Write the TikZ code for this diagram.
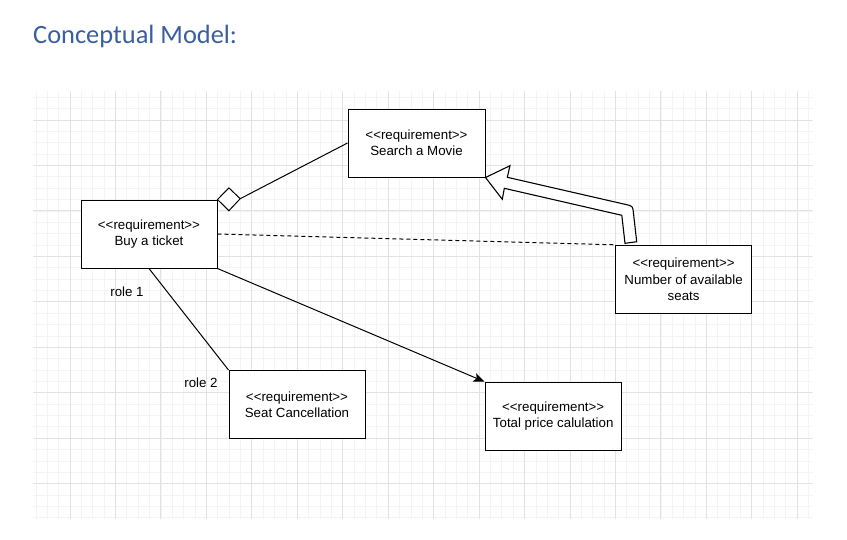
\documentclass[tikz,border=0pt]{standalone}
\usepackage{fontspec}
\setmainfont{Liberation Sans}
\newfontfamily\titlefont{Carlito}
\usetikzlibrary{arrows.meta,calc}
\definecolor{titleblue}{HTML}{3A5FA0}
\definecolor{gmajor}{HTML}{E2E2E2}
\definecolor{gminor}{HTML}{F4F4F4}
\newcommand\reqtag{<\kern0pt<requirement>\kern0pt>}
\begin{document}
\begin{tikzpicture}[x=1pt,y=-1pt,
  req/.style={draw,line width=1pt,fill=white,minimum width=136pt,minimum height=68pt,inner sep=0pt,align=center,font=\fontsize{13.3}{16.2}\selectfont},
  conn/.style={line width=1pt},
  lbl/.style={font=\fontsize{13.3}{16}\selectfont,inner sep=0pt},
  minorline/.style={gminor,line width=0.7pt},
  majorline/.style={gmajor,line width=0.9pt}]
\useasboundingbox[fill=white] (0,0) rectangle (847,539);
% title
\node[anchor=base west,inner sep=0pt,text=titleblue,font=\titlefont\fontsize{26.4}{30}\selectfont] (title) at (33,43.3) {Conceptual Model:};
% grid
\begin{scope}
\clip (33.3,91) rectangle (812.7,519.3);
\foreach \i in {0,...,72} \draw[minorline] ({24.55+\i*11.3625},91) -- ({24.55+\i*11.3625},519.3);
\foreach \i in {0,...,40} \draw[minorline] (33.3,{74.55+\i*11.3625}) -- (812.7,{74.55+\i*11.3625});
\foreach \i in {0,...,18} \draw[majorline] ({24.55+\i*45.45},91) -- ({24.55+\i*45.45},519.3);
\foreach \i in {0,...,10} \draw[majorline] (33.3,{74.55+\i*45.45}) -- (812.7,{74.55+\i*45.45});
\end{scope}
% nodes
\node[req,minimum width=137pt] (search) at (416.5,143) {\reqtag\\Search a Movie};
\node[req] (buy) at (149,234) {\reqtag\\Buy a ticket};
\node[req,minimum width=136.7pt] (seats) at (683.6,279.3) {\reqtag\\Number of available\\seats};
\node[req] (cancel) at (297,404.5) {\reqtag\\Seat Cancellation};
\node[req,minimum width=136.3pt] (total) at (553.2,416.2) {\reqtag\\Total price calulation};
\node[lbl] (role1) at (127,291.5) {role 1};
\node[lbl] (role2) at (201,382.5) {role 2};
% aggregation with diamond
\coordinate (dtip) at ($(buy.north east)+(22.7,-0.8)$);
\draw[conn,fill=white] (buy.north east) -- ++(11.4,-11.6) -- (dtip) -- ++(-11.3,12) -- cycle;
\draw[conn] (dtip) -- (search.west);
% dashed dependency
\draw[conn,dash pattern=on 4pt off 3pt] (buy.east) -- (seats.north west);
% association with roles
\draw[conn] (buy.south) -- (cancel.north west);
% directed association
\draw[conn,-{Stealth[length=11pt,width=9pt,inset=2.5pt]}] (buy.south east) -- (total.north west);
% block arrow
\draw[line width=1.1pt,fill=white,line join=miter] (search.south east) -- (510,165.7) -- (507.3,177.3) -- (625,204.3) .. controls (632.6,206) .. (633.3,211.7) -- (636.7,241.7) -- (625,243.3) -- (621.8,215.3) -- (504.3,188.3) -- (502.3,199.3) -- cycle;
\end{tikzpicture}
\end{document}
